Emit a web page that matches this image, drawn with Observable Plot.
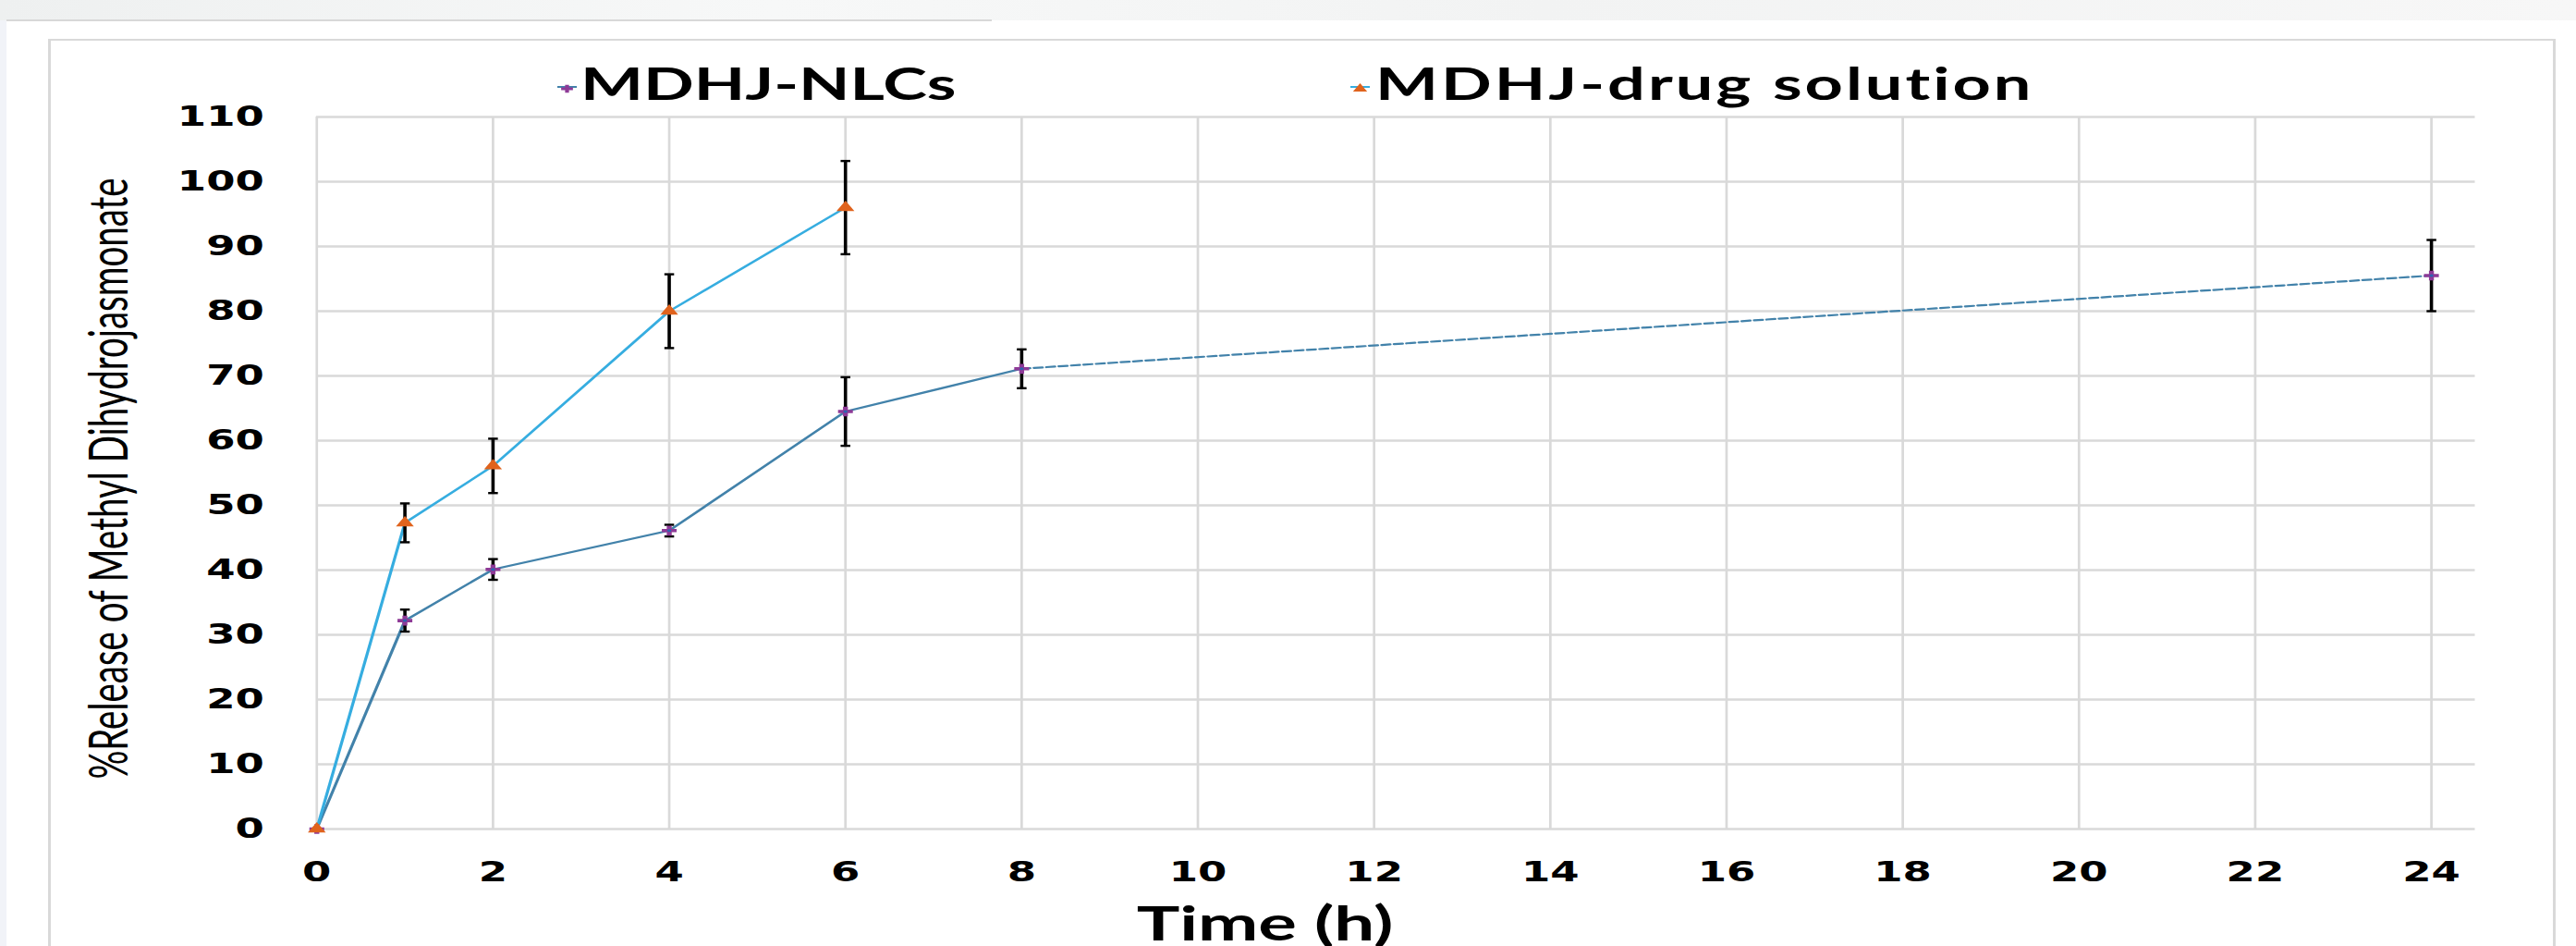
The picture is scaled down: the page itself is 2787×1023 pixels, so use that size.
<!DOCTYPE html>
<html>
<head>
<meta charset="utf-8">
<script src="https://cdn.jsdelivr.net/npm/d3@7"></script>
<script src="https://cdn.jsdelivr.net/npm/@observablehq/plot@0.6"></script>
<style>
html, body { margin: 0; padding: 0; background: #ffffff; width: 2787px; height: 1023px; overflow: hidden; }
#bg { position: absolute; left: 0; top: 0; width: 2787px; height: 1023px; }
#band { position: absolute; left: 0; top: 0; width: 2787px; height: 22px; background: linear-gradient(to right, #eef0f0, #f7f8f8 30%, #f2f3f3 60%, #f7f7f7); }
#bandline { position: absolute; left: 7px; top: 21px; width: 1066px; height: 2px; background: #d8d8d8; }
#strip { position: absolute; left: 0; top: 22px; width: 7px; height: 1001px; background: #f1f3f8; }
#frame { position: absolute; left: 52px; top: 42px; width: 2707px; height: 1100px; border: solid #d9d9d9; border-width: 2px 3px 0 3px; }
#chart { position: absolute; left: 0; top: 0; width: 1858px; height: 1023px; transform: scaleX(1.5); transform-origin: 0 0; font-family: Lato, "DejaVu Sans", sans-serif; }
#legend { position: absolute; left: 0; top: 0; width: 1858px; height: 110px; }
.item { position: absolute; top: 0; height: 110px; }
.item svg { position: absolute; overflow: visible; }
.item span { position: absolute; font-weight: 700; font-size: 48px; color: #000; white-space: nowrap; line-height: 1; }
#plot { position: absolute; left: 0; top: 100px; }
</style>
</head>
<body>
<div id="bg"><div id="band"></div><div id="bandline"></div><div id="strip"></div><div id="frame"></div></div>
<div id="chart">
  <div id="legend"></div>
  <div id="plot"></div>
</div>
<script>
// ---- data ----
const seriesNames = ["MDHJ-NLCs", "MDHJ-drug solution"];
const xTicks = [0, 2, 4, 6, 8, 10, 12, 14, 16, 18, 20, 22, 24];
const yTicks = [0, 10, 20, 30, 40, 50, 60, 70, 80, 90, 100, 110];
const xLabel = "Time (h)";
const yLabel = "%Release of Methyl Dihydrojasmonate";

const nlcTime = [0, 1, 2, 4, 6, 8, 24];
const nlcRelease = [0, 32.2, 40.1, 46.1, 64.5, 71.1, 85.5];
const nlcSD = [0, 1.7, 1.6, 0.9, 5.3, 3.0, 5.5];

const solTime = [0, 1, 2, 4, 6];
const solRelease = [0, 47.3, 56.1, 80.0, 96.0];
const solSD = [0, 3.0, 4.2, 5.7, 7.2];

// ---- styling ----
const nlcLine = "#4282aa";
const nlcMarker = "#8e3a97";
const solLine = "#36ade0";
const solMarker = "#e0631d";
const gridColor = "#d9d9d9";

const nlc = nlcTime.map((t, i) => ({t, v: nlcRelease[i], sd: nlcSD[i]}));
const sol = solTime.map((t, i) => ({t, v: solRelease[i], sd: solSD[i]}));

const capSymbol = {
  draw(ctx, size) {
    const r = Math.sqrt(size / Math.PI);
    ctx.moveTo(-r, 0);
    ctx.lineTo(r, 0);
  }
};

function errorMarks(data) {
  const d = data.filter(e => e.sd > 0);
  return [
    Plot.link(d, {x1: "t", x2: "t", y1: e => e.v - e.sd, y2: e => e.v + e.sd, stroke: "#000", strokeWidth: 2.4}),
    Plot.dot(d, {x: "t", y: e => e.v + e.sd, symbol: capSymbol, r: 3.5, stroke: "#000", strokeWidth: 2.4}),
    Plot.dot(d, {x: "t", y: e => e.v - e.sd, symbol: capSymbol, r: 3.5, stroke: "#000", strokeWidth: 2.4})
  ];
}

const tickFont = {fontFamily: "'DejaVu Sans', sans-serif", fontWeight: 700, fontSize: 30, fill: "#000"};

const chart = Plot.plot({
  width: 1858,
  height: 923,
  marginLeft: 228,
  marginRight: 73,
  marginTop: 26,
  marginBottom: 127,
  style: {fontFamily: "Lato, 'DejaVu Sans', sans-serif", background: "transparent", overflow: "visible", color: "#000"},
  x: {domain: [0, 24.5]},
  y: {domain: [0, 110]},
  marks: [
    Plot.gridX(xTicks, {stroke: gridColor, strokeOpacity: 1, strokeWidth: 1.8}),
    Plot.gridY(yTicks, {stroke: gridColor, strokeOpacity: 1, strokeWidth: 2.7}),
    Plot.axisX(xTicks, {tickSize: 0, tickPadding: 35, label: null, ...tickFont}),
    Plot.axisY(yTicks, {tickSize: 0, tickPadding: 38, label: null, ...tickFont}),
    Plot.line(nlc.filter(d => d.t <= 8), {x: "t", y: "v", stroke: nlcLine, strokeWidth: 2.2}),
    Plot.line(nlc.filter(d => d.t >= 8), {x: "t", y: "v", stroke: nlcLine, strokeWidth: 2.2, strokeDasharray: "6,3"}),
    ...errorMarks(nlc),
    Plot.line(sol, {x: "t", y: "v", stroke: solLine, strokeWidth: 2.2}),
    ...errorMarks(sol),
    Plot.dot(nlc, {x: "t", y: "v", symbol: "cross", r: 4.5, fill: nlcMarker, stroke: "none"}),
    Plot.dot(nlc, {x: "t", y: "v", r: 1.5, fill: "#2f62b0", stroke: "none"}),
    Plot.dot(sol, {x: "t", y: "v", symbol: "triangle", r: 4.8, fill: solMarker, stroke: "none"}),
    Plot.text([yLabel], {text: d => d, frameAnchor: "left", textAnchor: "middle", lineAnchor: "middle", rotate: -90, dx: -148.5, dy: 6, fontSize: 38.5, fontWeight: 400, fill: "#000"}),
    Plot.text([xLabel], {text: d => d, frameAnchor: "bottom", textAnchor: "middle", lineAnchor: "middle", dx: -94.6, dy: 104, fontSize: 52, fontWeight: 700, fill: "#000"})
  ]
});
document.getElementById("plot").appendChild(chart);

// ---- legend (above the plot) ----
const legend = document.getElementById("legend");
const legendItems = [
  {name: seriesNames[0], line: nlcLine, marker: nlcMarker, shape: "cross", mx: 408.7, tx: 418.7, ls: 0},
  {name: seriesNames[1], line: solLine, marker: solMarker, shape: "triangle", mx: 981, tx: 992, ls: 2.0}
];
for (const it of legendItems) {
  const item = document.createElement("div");
  item.className = "item";
  item.style.left = "0px";
  const ns = "http://www.w3.org/2000/svg";
  const svg = document.createElementNS(ns, "svg");
  svg.setAttribute("width", 20);
  svg.setAttribute("height", 20);
  svg.style.left = (it.mx - 10) + "px";
  svg.style.top = (95 - 10) + "px";
  const ln = document.createElementNS(ns, "line");
  ln.setAttribute("x1", 3); ln.setAttribute("x2", 17);
  ln.setAttribute("y1", 9); ln.setAttribute("y2", 9);
  ln.setAttribute("stroke", it.line); ln.setAttribute("stroke-width", 2);
  svg.appendChild(ln);
  const p = document.createElementNS(ns, "path");
  const sym = it.shape === "cross" ? d3.symbolCross : d3.symbolTriangle;
  p.setAttribute("d", d3.symbol(sym, it.shape === "cross" ? 40 : 45)());
  p.setAttribute("transform", "translate(10,11)");
  p.setAttribute("fill", it.marker);
  svg.appendChild(p);
  item.appendChild(svg);
  const span = document.createElement("span");
  span.textContent = it.name;
  span.style.left = it.tx + "px";
  span.style.top = "66px";
  span.style.letterSpacing = it.ls + "px";
  item.appendChild(span);
  legend.appendChild(item);
}
</script>
</body>
</html>
